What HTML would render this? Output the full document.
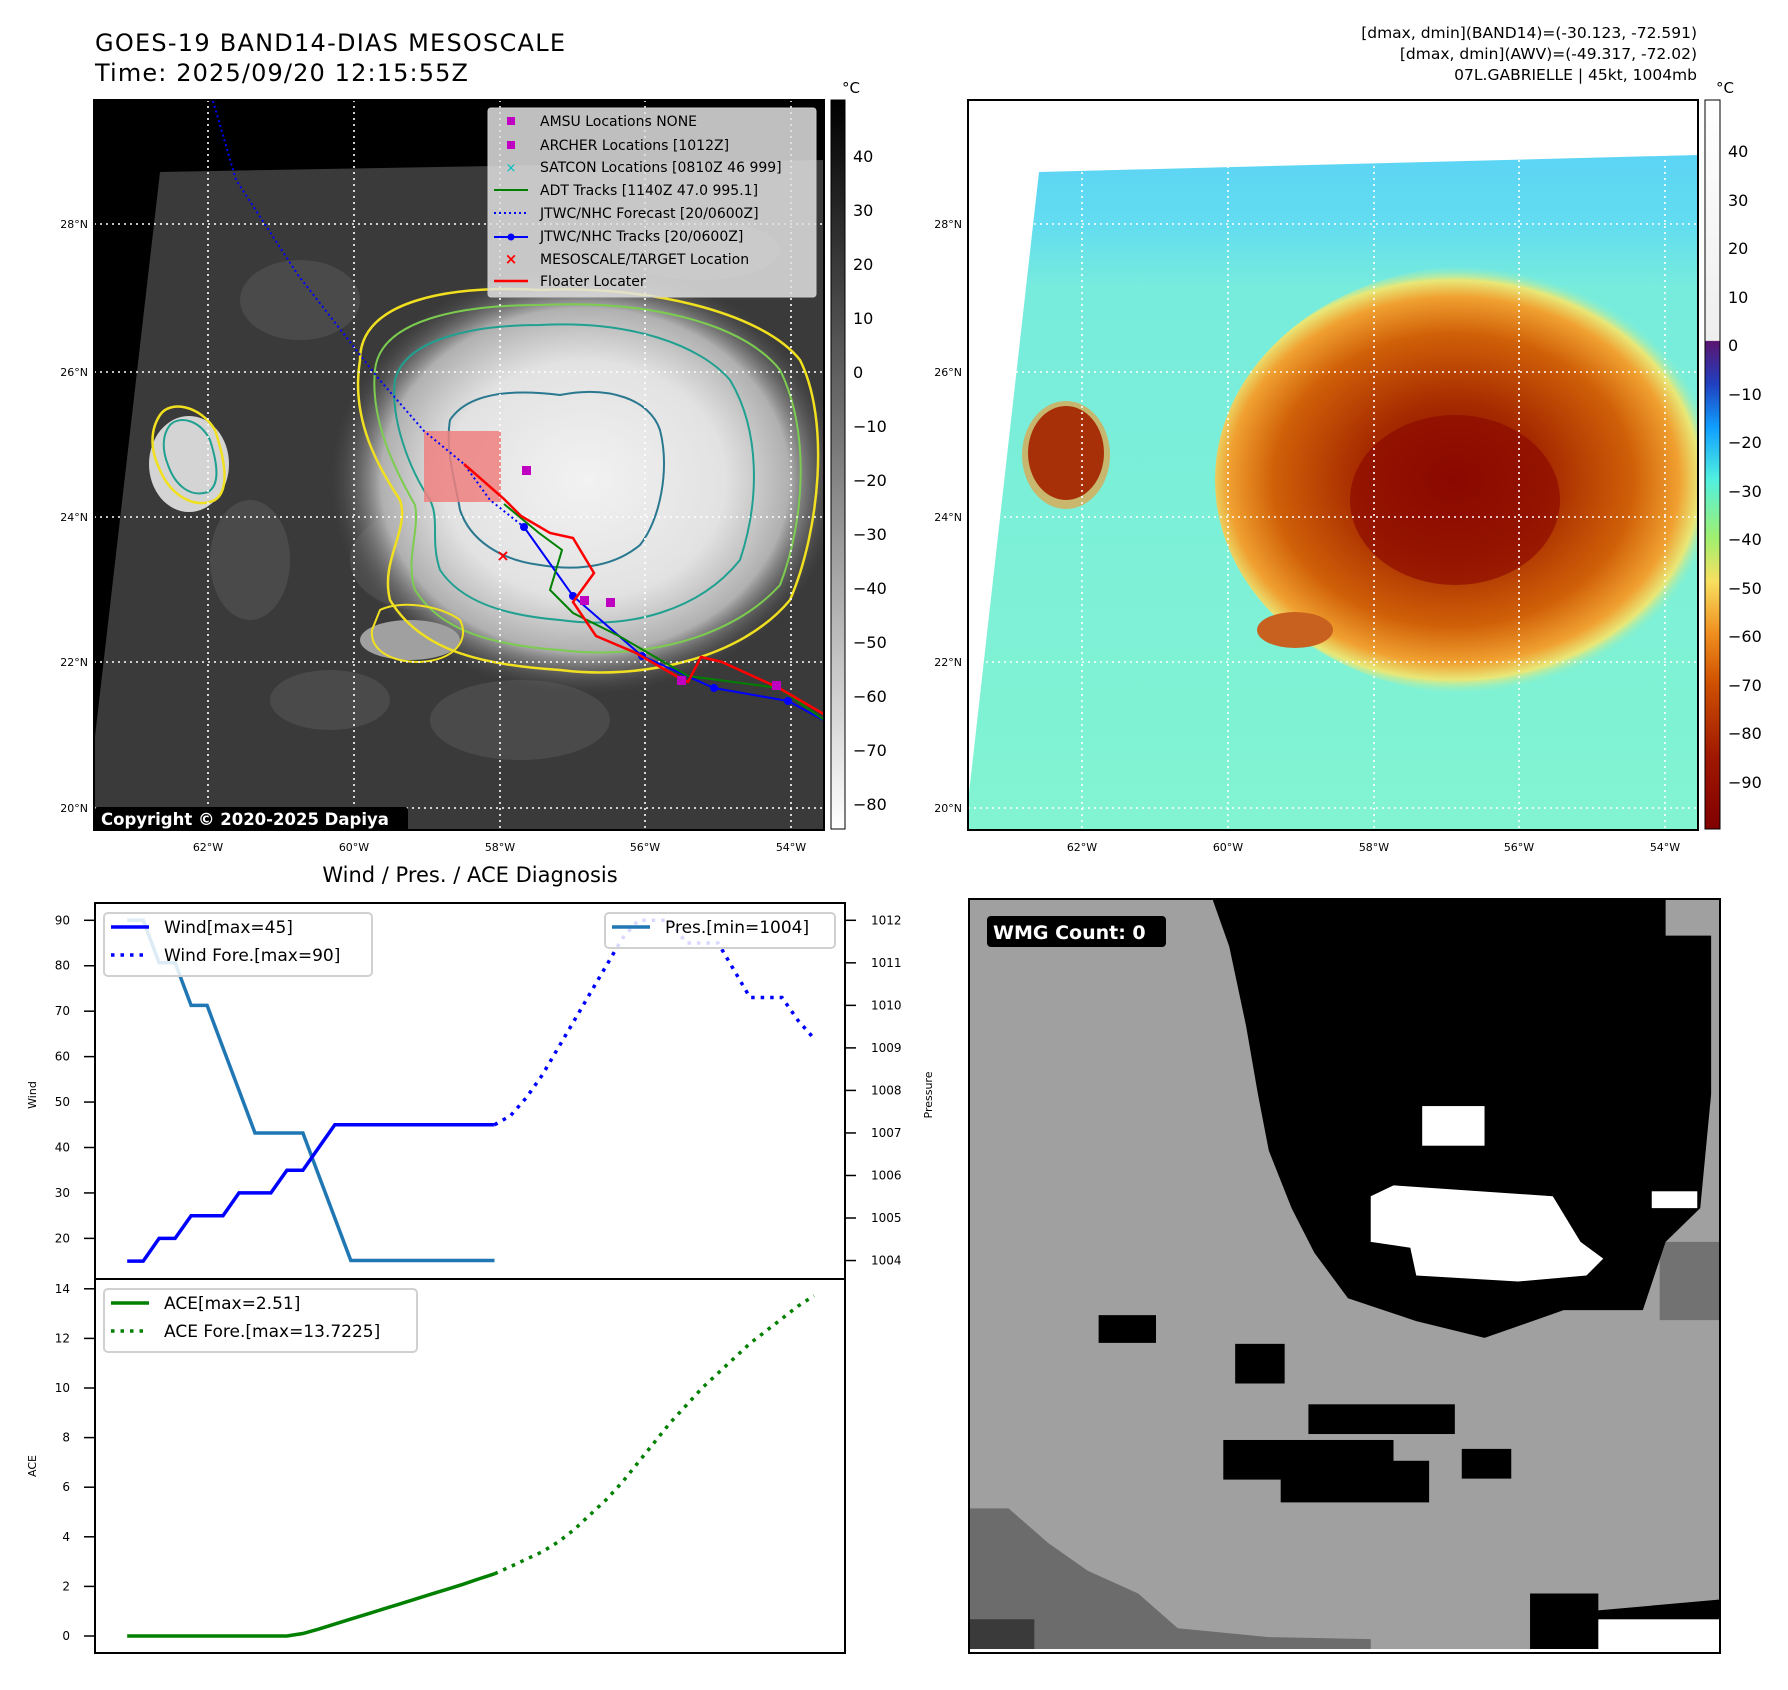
<!DOCTYPE html>
<html><head><meta charset="utf-8">
<style>
body{margin:0;background:#fff;}
svg{display:block;font-family:"DejaVu Sans","Liberation Sans",sans-serif;}
</style></head>
<body>
<svg id="root" width="1788" height="1690" viewBox="0 0 1788 1690" xmlns="http://www.w3.org/2000/svg">
<defs>
<radialGradient id="cloud1" cx="0.5" cy="0.5" r="0.5">
<stop offset="0" stop-color="#f2f2f2"/><stop offset="0.55" stop-color="#e2e2e2"/><stop offset="0.8" stop-color="#b0b0b0"/><stop offset="1" stop-color="#505050" stop-opacity="0"/>
</radialGradient>
<radialGradient id="storm" cx="0.45" cy="0.5" r="0.5">
<stop offset="0" stop-color="#8a0a00"/><stop offset="0.35" stop-color="#a52a00"/><stop offset="0.68" stop-color="#d06008"/><stop offset="0.85" stop-color="#f0a030"/><stop offset="0.93" stop-color="#e8e878"/><stop offset="1" stop-color="#80f0d0" stop-opacity="0"/>
</radialGradient>
<linearGradient id="sky" x1="0" y1="0" x2="0" y2="1">
<stop offset="0" stop-color="#5cd4f4"/><stop offset="0.1" stop-color="#62dcf0"/><stop offset="0.2" stop-color="#78ecdc"/><stop offset="1" stop-color="#82f4d2"/>
</linearGradient>
<linearGradient id="cbgray" x1="0" y1="0" x2="0" y2="1"><stop offset="0" stop-color="#000"/><stop offset="1" stop-color="#fff"/></linearGradient>
<linearGradient id="cbcolor" x1="0" y1="0" x2="0" y2="1">
<stop offset="0" stop-color="#ffffff"/><stop offset="0.33" stop-color="#eeeeee"/><stop offset="0.331" stop-color="#5a1470"/>
<stop offset="0.39" stop-color="#2040c0"/><stop offset="0.45" stop-color="#10a0ff"/><stop offset="0.52" stop-color="#50f0e0"/>
<stop offset="0.6" stop-color="#a0f070"/><stop offset="0.66" stop-color="#f8e060"/><stop offset="0.73" stop-color="#f09020"/>
<stop offset="0.8" stop-color="#d05000"/><stop offset="0.9" stop-color="#a01800"/><stop offset="1" stop-color="#800000"/>
</linearGradient>
<clipPath id="clip1"><rect x="94" y="100" width="730" height="730"/></clipPath>
<clipPath id="clip2"><rect x="968" y="100" width="730" height="730"/></clipPath>
</defs>

<text x="95" y="51" font-size="24" textLength="470">GOES-19 BAND14-DIAS MESOSCALE</text>
<text x="95" y="81" font-size="24" textLength="373">Time: 2025/09/20 12:15:55Z</text>
<g font-size="15.5" text-anchor="end">
<text x="1697" y="38">[dmax, dmin](BAND14)=(-30.123, -72.591)</text>
<text x="1697" y="59">[dmax, dmin](AWV)=(-49.317, -72.02)</text>
<text x="1697" y="80">07L.GABRIELLE | 45kt, 1004mb</text>
</g>

<!-- MAP 1 -->
<g clip-path="url(#clip1)">
<rect x="94" y="100" width="730" height="730" fill="#000"/>
<polygon points="160,172 824,160 824,830 94,830 94,745" fill="#3a3a3a"/>
<g fill="#555" opacity="0.6">
<ellipse cx="300" cy="300" rx="60" ry="40"/><ellipse cx="420" cy="560" rx="70" ry="50"/><ellipse cx="520" cy="720" rx="90" ry="40"/>
<ellipse cx="250" cy="560" rx="40" ry="60"/><ellipse cx="700" cy="250" rx="80" ry="30"/><ellipse cx="330" cy="700" rx="60" ry="30"/>
</g>
<ellipse cx="585" cy="480" rx="255" ry="215" fill="url(#cloud1)"/>
<ellipse cx="189" cy="464" rx="40" ry="48" fill="#d4d4d4"/>
<ellipse cx="410" cy="640" rx="50" ry="20" fill="#a0a0a0"/>
<path d="M360,360 C360,300 450,285 540,290 C640,285 760,310 800,360 C830,420 820,530 790,600 C740,660 640,680 560,670 C480,665 420,650 390,600 C380,560 410,530 400,500 C380,470 350,420 360,360Z" fill="none" stroke="#f0e020" stroke-width="2.5"/>
<path d="M375,370 C380,320 460,305 540,305 C640,300 740,320 780,370 C810,430 805,520 780,585 C730,640 640,660 560,650 C490,645 440,630 415,590 C405,560 420,530 415,505 C395,470 370,420 375,370Z" fill="none" stroke="#7ccc50" stroke-width="2"/>
<path d="M395,380 C405,340 470,325 540,325 C630,320 700,345 730,380 C760,430 760,500 740,560 C700,610 630,630 560,620 C500,615 460,600 440,570 C430,540 440,520 430,500 C410,470 390,420 395,380Z" fill="none" stroke="#20a090" stroke-width="2"/>
<path d="M450,420 C470,390 520,390 560,395 C610,385 650,400 660,430 C670,470 660,520 640,545 C610,570 570,570 540,565 C500,560 470,540 460,510 C455,480 445,450 450,420Z" fill="none" stroke="#2a7890" stroke-width="2"/>
<path d="M160,415 C170,400 200,405 215,430 C225,460 230,490 215,500 C195,510 170,495 160,470 C150,450 150,430 160,415Z" fill="none" stroke="#f0e020" stroke-width="2.5"/>
<path d="M170,425 C180,415 200,420 210,440 C218,465 220,485 208,492 C190,498 175,485 168,465 C162,450 162,435 170,425Z" fill="none" stroke="#20a090" stroke-width="2"/>
<path d="M380,610 C400,600 440,605 460,620 C470,640 455,660 420,662 C390,662 370,650 372,630Z" fill="none" stroke="#f0e020" stroke-width="2"/>
<rect x="424" y="431" width="77" height="71" fill="#f08080" opacity="0.85"/>
<g stroke="#fff" stroke-width="1.6" stroke-dasharray="2,4">
<line x1="94" y1="224" x2="824" y2="224"/><line x1="94" y1="372" x2="824" y2="372"/><line x1="94" y1="517" x2="824" y2="517"/><line x1="94" y1="662" x2="824" y2="662"/><line x1="94" y1="808" x2="824" y2="808"/>
<line x1="208" y1="100" x2="208" y2="830"/><line x1="354" y1="100" x2="354" y2="830"/><line x1="500" y1="100" x2="500" y2="830"/><line x1="645" y1="100" x2="645" y2="830"/><line x1="791" y1="100" x2="791" y2="830"/>
</g>
<polyline points="213,101 236,180 298,275 378,378 424,431 464,464 490,500 524,527" fill="none" stroke="#0000ff" stroke-width="2" stroke-dasharray="2,3"/>
<polyline points="524,527 573,596 642,656 714,688 788,701 827,722" fill="none" stroke="#0000ff" stroke-width="2"/>
<g fill="#0000ff"><circle cx="524" cy="527" r="4"/><circle cx="573" cy="596" r="4"/><circle cx="642" cy="656" r="4"/><circle cx="714" cy="688" r="4"/><circle cx="788" cy="701" r="4"/></g>
<polyline points="504,504 539,533 562,550 550,590 573,613 619,636 688,676 779,688 827,722" fill="none" stroke="#008000" stroke-width="2"/>
<polyline points="464,464 504,499 521,516 550,533 573,538 594,573 573,602 596,636 636,653 676,676 688,682 701,657 722,662 779,688 827,716" fill="none" stroke="#ff0000" stroke-width="2.5"/>
<text x="503" y="561" font-size="16" fill="#ff0000" text-anchor="middle" font-weight="bold">×</text>
<g fill="#c000c0"><rect x="522" y="466" width="9" height="9"/><rect x="580" y="596" width="9" height="9"/><rect x="606" y="598" width="9" height="9"/><rect x="677" y="676" width="9" height="9"/><rect x="772" y="681" width="9" height="9"/></g>
<g>
<rect x="488" y="108" width="328" height="189" rx="3" fill="#e0e0e0" fill-opacity="0.85" stroke="#ccc"/>
<g font-size="14">
<rect x="507" y="117" width="8" height="8" fill="#c000c0"/><text x="540" y="126">AMSU Locations NONE</text>
<rect x="507" y="141" width="8" height="8" fill="#c000c0"/><text x="540" y="150">ARCHER Locations [1012Z]</text>
<text x="511" y="172" fill="#00c0c0" text-anchor="middle" font-size="13">×</text><text x="540" y="172">SATCON Locations [0810Z 46 999]</text>
<line x1="494" y1="190" x2="528" y2="190" stroke="#008000" stroke-width="2"/><text x="540" y="195">ADT Tracks [1140Z 47.0 995.1]</text>
<line x1="494" y1="213" x2="528" y2="213" stroke="#0000ff" stroke-width="2" stroke-dasharray="2,3"/><text x="540" y="218">JTWC/NHC Forecast [20/0600Z]</text>
<line x1="494" y1="237" x2="528" y2="237" stroke="#0000ff" stroke-width="2"/><circle cx="511" cy="237" r="3.5" fill="#0000ff"/><text x="540" y="241">JTWC/NHC Tracks [20/0600Z]</text>
<text x="511" y="264" fill="#ff0000" text-anchor="middle" font-weight="bold" font-size="15">×</text><text x="540" y="264">MESOSCALE/TARGET Location</text>
<line x1="494" y1="281" x2="528" y2="281" stroke="#ff0000" stroke-width="2.5"/><text x="540" y="286">Floater Locater</text>
</g></g>
<rect x="95" y="807" width="313" height="24" rx="3" fill="#000"/>
<text x="101" y="825" font-size="16.5" font-weight="bold" fill="#fff">Copyright © 2020-2025 Dapiya</text>
</g>
<rect x="94" y="100" width="730" height="730" fill="none" stroke="#000" stroke-width="2"/>
<g font-size="11" text-anchor="end">
<text x="88" y="228">28°N</text><text x="88" y="376">26°N</text><text x="88" y="521">24°N</text><text x="88" y="666">22°N</text><text x="88" y="812">20°N</text></g>
<g font-size="11" text-anchor="middle">
<text x="208" y="851">62°W</text><text x="354" y="851">60°W</text><text x="500" y="851">58°W</text><text x="645" y="851">56°W</text><text x="791" y="851">54°W</text></g>
<rect x="831" y="100" width="14" height="729" fill="url(#cbgray)" stroke="#000"/>
<text x="842" y="93" font-size="15">°C</text>
<g font-size="16">
<text x="853" y="162">40</text><text x="853" y="216">30</text><text x="853" y="270">20</text><text x="853" y="324">10</text><text x="853" y="378">0</text>
<text x="853" y="432">−10</text><text x="853" y="486">−20</text><text x="853" y="540">−30</text><text x="853" y="594">−40</text><text x="853" y="648">−50</text><text x="853" y="702">−60</text><text x="853" y="756">−70</text><text x="853" y="810">−80</text></g>

<!-- MAP 2 -->
<g clip-path="url(#clip2)">
<rect x="968" y="100" width="730" height="730" fill="#fff"/>
<polygon points="1039,172 1698,155 1698,830 968,830 968,802" fill="url(#sky)"/>
<ellipse cx="1480" cy="480" rx="265" ry="215" fill="url(#storm)"/>
<ellipse cx="1455" cy="500" rx="105" ry="85" fill="#8a0800" opacity="0.65"/>
<ellipse cx="1066" cy="455" rx="44" ry="54" fill="#e8a040" opacity="0.7"/>
<ellipse cx="1066" cy="453" rx="38" ry="47" fill="#a83008"/>
<ellipse cx="1295" cy="630" rx="38" ry="18" fill="#c86020"/>
<g stroke="#fff" stroke-width="1.6" stroke-dasharray="2,4">
<line x1="968" y1="224" x2="1698" y2="224"/><line x1="968" y1="372" x2="1698" y2="372"/><line x1="968" y1="517" x2="1698" y2="517"/><line x1="968" y1="662" x2="1698" y2="662"/><line x1="968" y1="808" x2="1698" y2="808"/>
<line x1="1082" y1="100" x2="1082" y2="830"/><line x1="1228" y1="100" x2="1228" y2="830"/><line x1="1374" y1="100" x2="1374" y2="830"/><line x1="1519" y1="100" x2="1519" y2="830"/><line x1="1665" y1="100" x2="1665" y2="830"/>
</g></g>
<rect x="968" y="100" width="730" height="730" fill="none" stroke="#000" stroke-width="2"/>
<g font-size="11" text-anchor="end">
<text x="962" y="228">28°N</text><text x="962" y="376">26°N</text><text x="962" y="521">24°N</text><text x="962" y="666">22°N</text><text x="962" y="812">20°N</text></g>
<g font-size="11" text-anchor="middle">
<text x="1082" y="851">62°W</text><text x="1228" y="851">60°W</text><text x="1374" y="851">58°W</text><text x="1519" y="851">56°W</text><text x="1665" y="851">54°W</text></g>
<rect x="1705" y="100" width="15" height="729" fill="url(#cbcolor)" stroke="#000"/>
<text x="1716" y="93" font-size="15">°C</text>
<g font-size="16">
<text x="1728" y="157">40</text><text x="1728" y="206">30</text><text x="1728" y="254">20</text><text x="1728" y="303">10</text><text x="1728" y="351">0</text>
<text x="1728" y="400">−10</text><text x="1728" y="448">−20</text><text x="1728" y="497">−30</text><text x="1728" y="545">−40</text><text x="1728" y="594">−50</text><text x="1728" y="642">−60</text><text x="1728" y="691">−70</text><text x="1728" y="739">−80</text><text x="1728" y="788">−90</text></g>

<!-- WMG panel -->
<g transform="translate(969,899) scale(0.9895,0.9908) translate(-969,-903)">
<rect x="969" y="903" width="759" height="757" fill="#a0a0a0"/>
<polygon points="969,1518 1009,1518 1049,1553 1089,1581 1140,1604 1180,1639 1272,1648 1375,1650 1375,1660 969,1660" fill="#6c6c6c"/>
<polygon points="969,1630 1035,1630 1035,1660 969,1660" fill="#3a3a3a"/>
<polygon points="1667,1249 1728,1249 1728,1328 1667,1328" fill="#727272"/>
<polygon points="1215,903 1673,903 1673,940 1719,940 1719,1100 1708,1215 1673,1249 1650,1318 1570,1318 1490,1346 1421,1329 1352,1306 1318,1260 1295,1215 1272,1157 1261,1100 1249,1031 1232,951" fill="#000"/>
<polygon points="1375,1203 1398,1192 1559,1203 1587,1249 1610,1266 1593,1283 1524,1289 1421,1283 1415,1255 1375,1249" fill="#fff"/>
<rect x="1427" y="1112" width="63" height="40" fill="#fff"/>
<rect x="1659" y="1198" width="46" height="17" fill="#fff"/>
<rect x="1100" y="1323" width="58" height="28" fill="#000"/>
<rect x="1238" y="1352" width="50" height="40" fill="#000"/>
<rect x="1312" y="1413" width="148" height="30" fill="#000"/>
<rect x="1226" y="1449" width="172" height="40" fill="#000"/>
<rect x="1284" y="1470" width="150" height="42" fill="#000"/>
<rect x="1467" y="1458" width="50" height="30" fill="#000"/>
<polygon points="1536,1604 1605,1604 1605,1621 1728,1610 1728,1660 1536,1660" fill="#000"/>
<rect x="1605" y="1630" width="123" height="30" fill="#fff"/>
</g>
<rect x="969" y="899" width="751" height="754" fill="none" stroke="#000" stroke-width="2"/>
<rect x="987" y="916" width="179" height="31" rx="4" fill="#000"/>
<text x="993" y="939" font-size="19" font-weight="bold" fill="#fff">WMG Count: 0</text>

<text x="470" y="882" font-size="21" text-anchor="middle">Wind / Pres. / ACE Diagnosis</text>
<g id="chart"></g>
</svg>
<script>
const windObs=[15,15,20,20,25,25,25,30,30,30,35,35,40,45,45,45,45,45,45,45,45,45,45,45];
const windFore=[45,47,51,56,62,68,74,80,86,90,90,90,85,85,85,79,73,73,73,68,64];
const presObs=[1012,1012,1011,1011,1010,1010,1009,1008,1007,1007,1007,1007,1006,1005,1004,1004,1004,1004,1004,1004,1004,1004,1004,1004];
const aceObs=[0,0,0,0,0,0,0,0,0,0,0,0.1,0.28,0.48,0.68,0.88,1.08,1.28,1.48,1.68,1.88,2.08,2.3,2.51];
const aceFore=[2.51,2.8,3.1,3.4,3.8,4.3,4.9,5.5,6.2,7.0,7.8,8.6,9.3,10.0,10.6,11.2,11.8,12.3,12.8,13.3,13.72];
const windTicks=[20,30,40,50,60,70,80,90];
const presTicks=[1004,1005,1006,1007,1008,1009,1010,1011,1012];
const aceTicks=[0,2,4,6,8,10,12,14];
const foreStart=23;

const NS="http://www.w3.org/2000/svg";
const g=document.getElementById('chart');
const X=i=>127.2+i*15.97;
const YW=v=>920.3+(90-v)*4.544;
const YP=p=>920.3+(1012-p)*42.53;
const YA=a=>1636-a*24.8;
function el(tag,attrs,parent){const e=document.createElementNS(NS,tag);for(const k in attrs)e.setAttribute(k,attrs[k]);(parent||g).appendChild(e);return e;}
function pts(arr,off,fy){return arr.map((v,i)=>X(i+off).toFixed(1)+','+fy(v).toFixed(1)).join(' ');}

let l;
l=el('polyline',{points:pts(presObs,0,YP),fill:'none',stroke:'#1f77b4','stroke-width':3.5});


l=el('polyline',{points:pts(windObs,0,YW),fill:'none',stroke:'#0000ff','stroke-width':3.5});


l=el('polyline',{points:pts(windFore,foreStart,YW),fill:'none',stroke:'#0000ff','stroke-width':3.5,'stroke-dasharray':'3.5,6'});


l=el('polyline',{points:pts(aceObs,0,YA),fill:'none',stroke:'#008000','stroke-width':3.5});


l=el('polyline',{points:pts(aceFore,foreStart,YA),fill:'none',stroke:'#008000','stroke-width':3.5,'stroke-dasharray':'3.5,6'});



el('rect',{x:95,y:903,width:750,height:376,fill:'none',stroke:'#000','stroke-width':2});
el('rect',{x:95,y:1279,width:750,height:374,fill:'none',stroke:'#000','stroke-width':2});
windTicks.forEach(v=>{const y=YW(v);el('line',{x1:84,y1:y,x2:95,y2:y,stroke:'#000','stroke-width':1.5});const t=el('text',{x:70,y:y+4,'font-size':12,'text-anchor':'end'});t.textContent=v;});
presTicks.forEach(v=>{const y=YP(v);el('line',{x1:845,y1:y,x2:856,y2:y,stroke:'#000','stroke-width':1.5});const t=el('text',{x:871,y:y+4,'font-size':12});t.textContent=v;});
aceTicks.forEach(v=>{const y=YA(v);el('line',{x1:84,y1:y,x2:95,y2:y,stroke:'#000','stroke-width':1.5});const t=el('text',{x:70,y:y+4,'font-size':12,'text-anchor':'end'});t.textContent=v;});
let t;
t=el('text',{x:36,y:1095,'font-size':11,'text-anchor':'middle',transform:'rotate(-90 36 1095)'});t.textContent='Wind';


t=el('text',{x:932,y:1095,'font-size':11,'text-anchor':'middle',transform:'rotate(-90 932 1095)'});t.textContent='Pressure';


t=el('text',{x:36,y:1466,'font-size':11,'text-anchor':'middle',transform:'rotate(-90 36 1466)'});t.textContent='ACE';



function legend(x,y,w,h,items,name){const lg=el('g',{});
el('rect',{x:x,y:y,width:w,height:h,rx:4,fill:'#fff','fill-opacity':0.85,stroke:'#d0d0d0','stroke-width':2},lg);
items.forEach((it,i)=>{const yy=y+19+i*28;el('line',{x1:x+7,y1:yy-5,x2:x+45,y2:yy-5,stroke:it[1],'stroke-width':3.5,'stroke-dasharray':it[2]?'3.5,6':'none'},lg);const tx=el('text',{x:x+60,y:yy+1,'font-size':17},lg);tx.textContent=it[0];});}
legend(104,913,268,63,[['Wind[max=45]','#0000ff',0],['Wind Fore.[max=90]','#0000ff',1]],'wind-legend');
legend(605,913,230,35,[['Pres.[min=1004]','#1f77b4',0]],'pressure-legend');
legend(104,1289,313,63,[['ACE[max=2.51]','#008000',0],['ACE Fore.[max=13.7225]','#008000',1]],'ace-legend');
</script>
</body></html>
